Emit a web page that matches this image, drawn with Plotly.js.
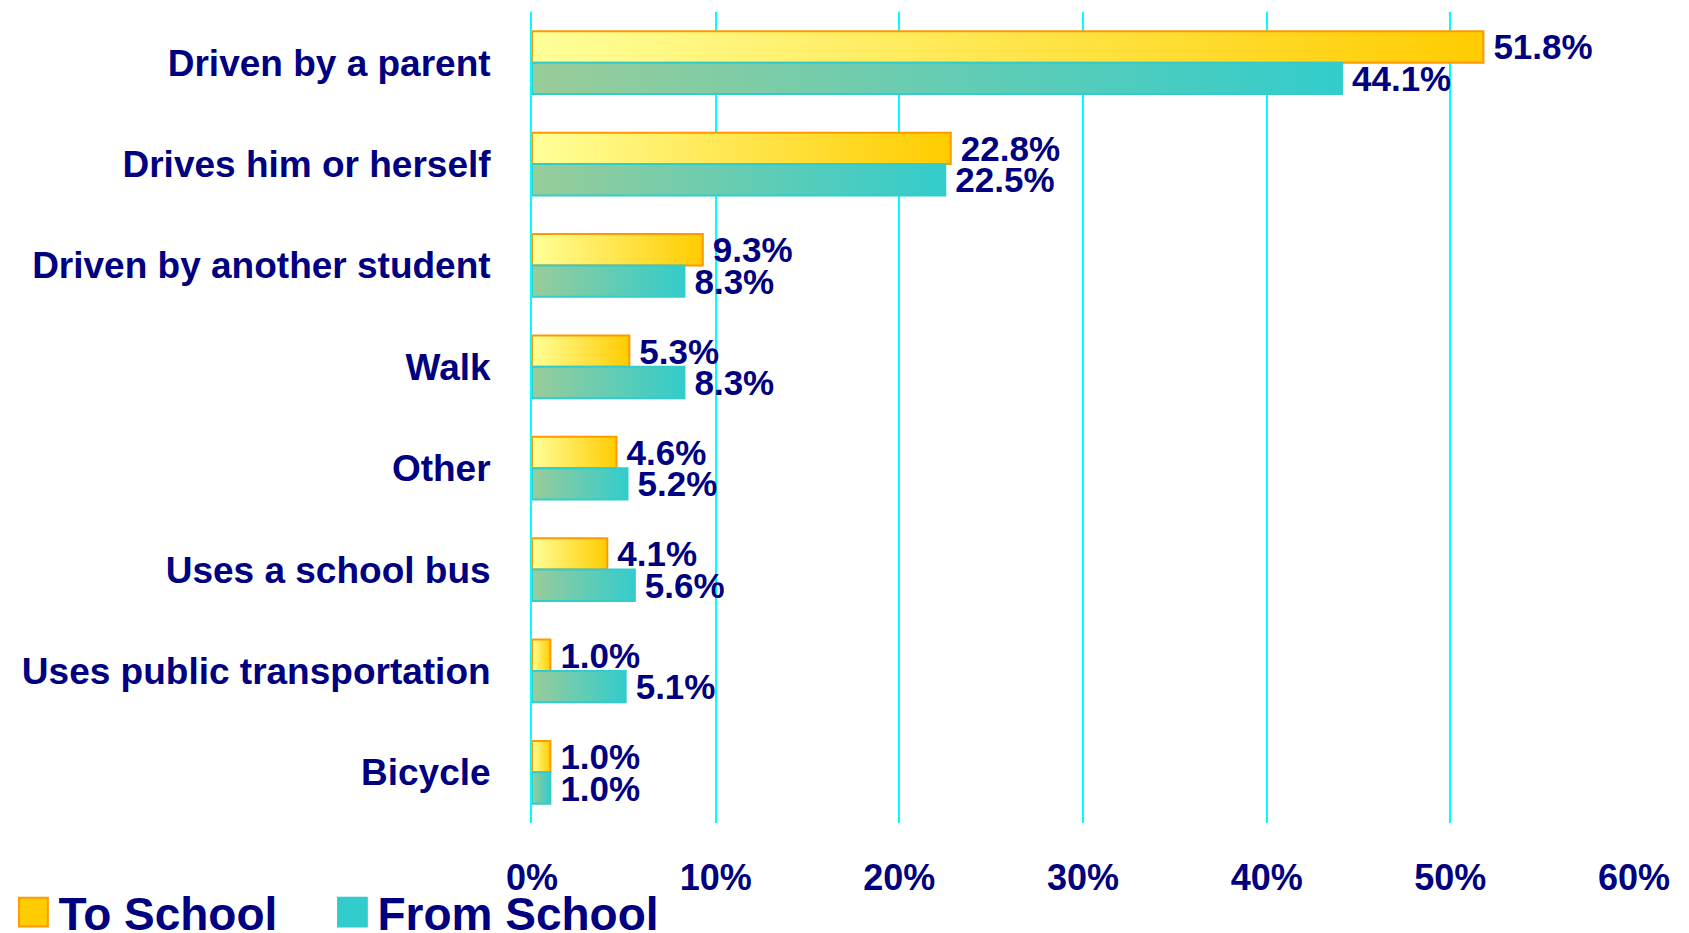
<!DOCTYPE html>
<html>
<head>
<meta charset="utf-8">
<script src="https://cdn.plot.ly/plotly-3.0.1.min.js"></script>
<style>
html, body { margin: 0; padding: 0; background: #fff; }
#chart { width: 1689px; height: 933px; }
</style>
</head>
<body>
<div id="chart"></div>
<script>
const categories = [
    "Driven by a parent",
    "Drives him or herself",
    "Driven by another student",
    "Walk",
    "Other",
    "Uses a school bus",
    "Uses public transportation",
    "Bicycle"
];
const toSchool = [51.8, 22.8, 9.3, 5.3, 4.6, 4.1, 1.0, 1.0];
const fromSchool = [44.1, 22.5, 8.3, 8.3, 5.2, 5.6, 5.1, 1.0];
const xTicks = [0, 10, 20, 30, 40, 50, 60];
const xTickLabels = ["0%", "10%", "20%", "30%", "40%", "50%", "60%"];

const NAVY = "#000080";
const FONT = "Liberation Sans, Arial, sans-serif";

function barTrace(name, values, color, lineColor) {
    return {
        name: name,
        type: "bar",
        orientation: "h",
        x: values,
        y: categories,
        marker: { color: color, line: { color: lineColor, width: 2 } },
        texttemplate: "\u2009%{x:.1f}%",
        textposition: "outside",
        textfont: { family: FONT, size: 35, color: NAVY, weight: "bold" },
        constraintext: "none",
        cliponaxis: false,
        hoverinfo: "skip"
    };
}

const traces = [
    barTrace("To School", toSchool, "#FFCC00", "#FF9900"),
    barTrace("From School", fromSchool, "#33CCCC", "#33CCCC")
];

const layout = {
    width: 1689,
    height: 933,
    paper_bgcolor: "#ffffff",
    plot_bgcolor: "#ffffff",
    barmode: "group",
    bargap: 0.38,
    bargroupgap: 0,
    margin: { l: 532, r: 55, t: 12, b: 110, autoexpand: false },

    xaxis: {
        range: [0, 60],
        tickvals: xTicks,
        ticktext: xTickLabels,
        showgrid: true,
        gridcolor: "#00FFFF",
        gridwidth: 2,
        zeroline: false,
        showline: false,
        ticks: "",
        ticklabelstandoff: 30,
        tickfont: { family: FONT, size: 36, color: NAVY, weight: "bold" }
    },

    yaxis: {
        type: "category",
        autorange: "reversed",
        showgrid: false,
        zeroline: false,
        showline: true,
        linecolor: "#00FFFF",
        linewidth: 2,
        ticks: "",
        ticklabelstandoff: 32,
        tickfont: { family: FONT, size: 37, color: NAVY, weight: "bold" }
    },

    showlegend: true,
    legend: {
        orientation: "h",
        xref: "container",
        yref: "paper",
        x: 0.005,
        y: -0.155,
        xanchor: "left",
        yanchor: "bottom",
        itemwidth: 40,
        entrywidth: 264,
        bgcolor: "rgba(0,0,0,0)",
        font: { family: FONT, size: 46, color: NAVY, weight: "bold" }
    }
};

const config = { staticPlot: true, displayModeBar: false };

function makeGradient(svg, id, c0, c1) {
    const ns = "http://www.w3.org/2000/svg";
    let defs = svg.querySelector("defs");
    if (!defs) {
        defs = document.createElementNS(ns, "defs");
        svg.insertBefore(defs, svg.firstChild);
    }
    const g = document.createElementNS(ns, "linearGradient");
    g.setAttribute("id", id);
    g.setAttribute("x1", "0");
    g.setAttribute("y1", "0");
    g.setAttribute("x2", "1");
    g.setAttribute("y2", "0");
    [[0, c0], [1, c1]].forEach(([off, col]) => {
        const s = document.createElementNS(ns, "stop");
        s.setAttribute("offset", off);
        s.setAttribute("stop-color", col);
        g.appendChild(s);
    });
    defs.appendChild(g);
}

Plotly.newPlot("chart", traces, layout, config).then(gd => {
    const svg = gd.querySelector(".main-svg");
    makeGradient(svg, "gradTo", "#FFFF99", "#FFCC00");
    makeGradient(svg, "gradFrom", "#99CC99", "#33CCCC");
    const fills = ["url(#gradTo)", "url(#gradFrom)"];
    gd.querySelectorAll(".barlayer .trace").forEach((tr, i) => {
        tr.querySelectorAll(".point path").forEach(p => { p.style.fill = fills[i]; });
    });
    // bigger legend swatches, like the original
    gd.querySelectorAll(".legend .legendpoints path").forEach(p => {
        const t = p.getAttribute("transform") || "";
        p.setAttribute("transform", t + " scale(2.4)");
        p.style.vectorEffect = "non-scaling-stroke";
    });
    // fixed entry width would clip the last legend text
    gd.querySelectorAll(".legend [clip-path]").forEach(el => el.removeAttribute("clip-path"));
});
</script>
</body>
</html>
